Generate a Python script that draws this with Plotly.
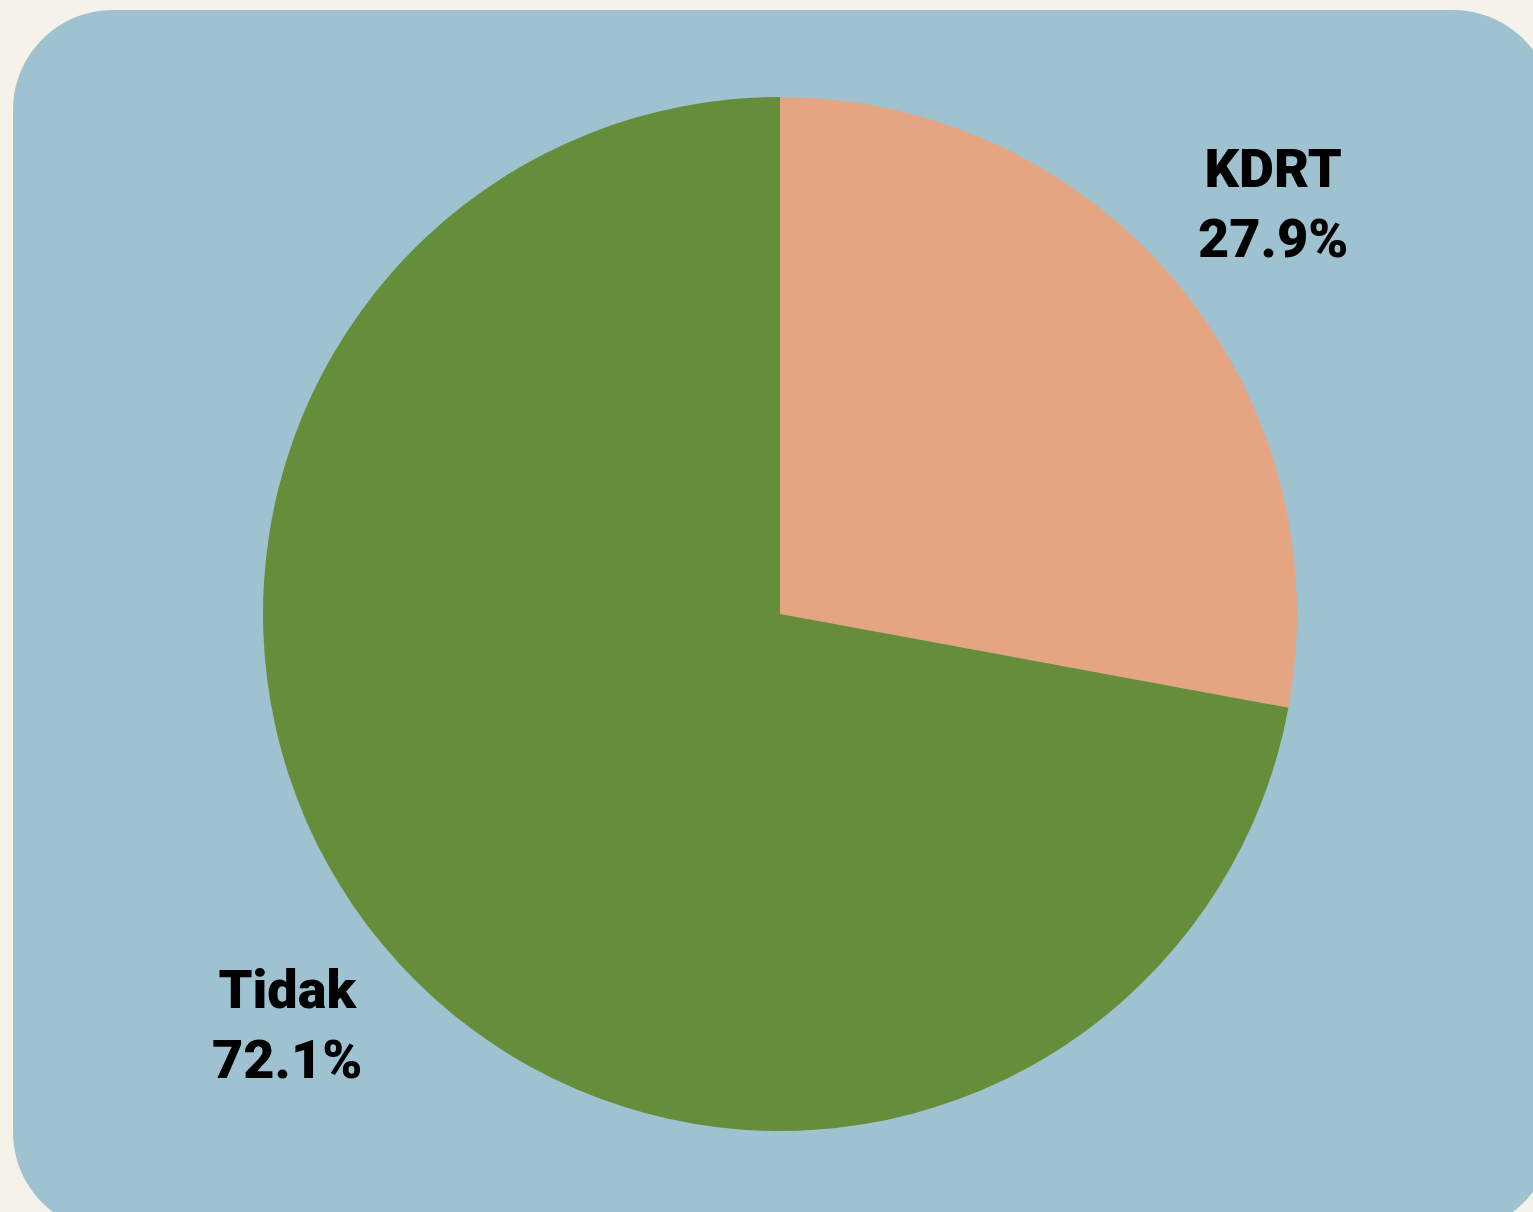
import math
import plotly.graph_objects as go

labels = ["KDRT", "Tidak"]
values = [27.9, 72.1]
colors = ["#E5A582", "#668E3A"]

W, H = 1533, 1212


def px(x):
    return x / W


def py(y):
    return 1 - y / H


def rounded_rect(x0, y0, x1, y1, r):
    k = 0.5523 * r
    pts = [
        ("M", [(x0 + r, y0)]),
        ("L", [(x1 - r, y0)]),
        ("C", [(x1 - r + k, y0), (x1, y0 + r - k), (x1, y0 + r)]),
        ("L", [(x1, y1 - r)]),
        ("C", [(x1, y1 - r + k), (x1 - r + k, y1), (x1 - r, y1)]),
        ("L", [(x0 + r, y1)]),
        ("C", [(x0 + r - k, y1), (x0, y1 - r + k), (x0, y1 - r)]),
        ("L", [(x0, y0 + r)]),
        ("C", [(x0, y0 + r - k), (x0 + r - k, y0), (x0 + r, y0)]),
    ]
    s = ""
    for cmd, ps in pts:
        s += cmd + " " + " ".join(f"{px(a):.5f},{py(b):.5f}" for a, b in ps) + " "
    return s + "Z"


# pie placement (centre, radius in px) and label distance factor
CX, CY, R = 780, 614, 517
LABEL_R = 1.242
FONT = dict(family="Roboto, sans-serif", size=54, color="#000000", weight=900)

fig = go.Figure(
    go.Pie(
        labels=labels,
        values=values,
        marker=dict(colors=colors, line=dict(width=0)),
        sort=False,
        direction="clockwise",
        rotation=0,
        textinfo="none",
        hoverinfo="skip",
        showlegend=False,
        automargin=False,
        domain=dict(x=[px(CX - R), px(CX + R)], y=[py(CY + R), py(CY - R)]),
    )
)

# outside labels placed at the mid-angle of each slice (computed from the data)
total = sum(values)
annotations = []
cum = 0.0
for lab, v in zip(labels, values):
    mid = (cum + v / 2) / total * 2 * math.pi
    cum += v
    lx = CX + LABEL_R * R * math.sin(mid)
    ly = CY - LABEL_R * R * math.cos(mid)
    annotations.append(
        dict(
            x=px(lx), y=py(ly), xref="paper", yref="paper",
            text=f"{lab}<br>{v / total * 100:.1f}%",
            showarrow=False, xanchor="center", yanchor="middle",
            align="center", font=FONT,
        )
    )

fig.update_layout(
    width=W,
    height=H,
    autosize=False,
    margin=dict(l=0, r=0, t=0, b=0, pad=0, autoexpand=False),
    paper_bgcolor="#F5F2EA",
    annotations=annotations,
    shapes=[
        dict(
            type="path",
            xref="paper",
            yref="paper",
            path=rounded_rect(13, 10, 1553, 1232, 100),
            fillcolor="#9FC2D0",
            line=dict(width=0),
            layer="below",
        )
    ],
)

fig.write_html(
    "out.html",
    config={"displayModeBar": False},
    post_script="document.body.style.margin='0';document.body.style.overflow='hidden';",
)
